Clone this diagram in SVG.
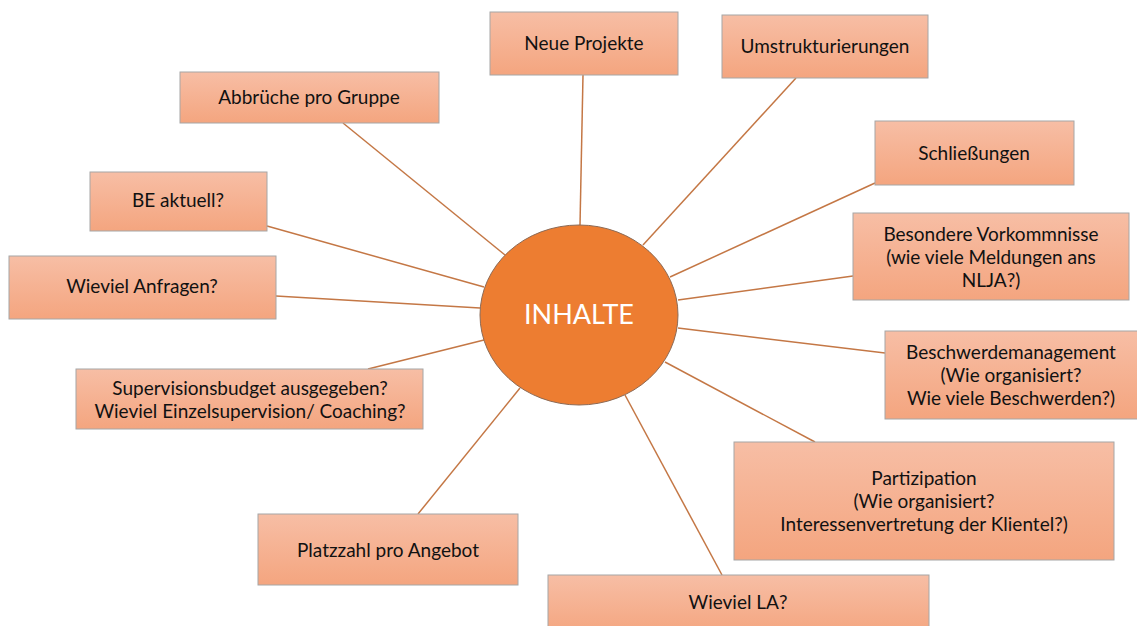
<svg xmlns="http://www.w3.org/2000/svg" width="1137" height="626" viewBox="0 0 1137 626">
<defs>
<linearGradient id="g" x1="0" y1="0" x2="0" y2="1">
<stop offset="0" stop-color="#F7BEA5"/>
<stop offset="1" stop-color="#F4A57F"/>
</linearGradient>
<style>
.b{fill:url(#g);stroke:#A6A6A6;stroke-width:1}
.t{font-family:Lato,"Noto Sans",sans-serif;font-size:19px;fill:#111;text-anchor:middle}
.c line{stroke:#C47745;stroke-width:1.5}
</style>
</defs>
<rect width="1137" height="626" fill="#fff"/>
<g class="c" id="connectors">
<line x1="583" y1="75" x2="580" y2="225"/>
<line x1="796" y1="78" x2="643" y2="245"/>
<line x1="343" y1="123" x2="505" y2="255"/>
<line x1="875" y1="183" x2="670" y2="277"/>
<line x1="853" y1="276" x2="678" y2="300"/>
<line x1="885" y1="353" x2="678" y2="328"/>
<line x1="815" y1="442" x2="665" y2="362"/>
<line x1="722" y1="575" x2="625" y2="395"/>
<line x1="418" y1="514" x2="520" y2="388"/>
<line x1="368" y1="369" x2="484" y2="340"/>
<line x1="276" y1="296" x2="480" y2="308"/>
<line x1="267" y1="226" x2="484" y2="287"/>
</g>
<g id="center">
<ellipse cx="579" cy="315" rx="99" ry="90" fill="#ED7D31" stroke="#8C6A55" stroke-width="1"/>
<text x="579" y="324" font-family="Lato,'Noto Sans',sans-serif" font-size="27" fill="#fff" text-anchor="middle">INHALTE</text>
</g>
<g id="n1"><rect class="b" x="490" y="12" width="188" height="63"/><text class="t" x="584" y="50">Neue Projekte</text></g>
<g id="n2"><rect class="b" x="722" y="15" width="206" height="63"/><text class="t" x="825" y="53">Umstrukturierungen</text></g>
<g id="n3"><rect class="b" x="180" y="72" width="259" height="51"/><text class="t" x="309" y="104">Abbrüche pro Gruppe</text></g>
<g id="n4"><rect class="b" x="875" y="121" width="199" height="64"/><text class="t" x="974" y="160">Schließungen</text></g>
<g id="n5"><rect class="b" x="90" y="172" width="177" height="59"/><text class="t" x="178" y="207">BE aktuell?</text></g>
<g id="n6"><rect class="b" x="9" y="256" width="267" height="63"/><text class="t" x="142" y="293">Wieviel Anfragen?</text></g>
<g id="n7"><rect class="b" x="76" y="369" width="347" height="60"/><text class="t" x="250" y="395">Supervisionsbudget ausgegeben?</text><text class="t" x="250" y="418">Wieviel Einzelsupervision/ Coaching?</text></g>
<g id="n8"><rect class="b" x="853" y="213" width="276" height="87"/><text class="t" x="991" y="241">Besondere Vorkommnisse</text><text class="t" x="991" y="264">(wie viele Meldungen ans</text><text class="t" x="991" y="287">NLJA?)</text></g>
<g id="n9"><rect class="b" x="885" y="331" width="253" height="88"/><text class="t" x="1011" y="359">Beschwerdemanagement</text><text class="t" x="1011" y="382">(Wie organisiert?</text><text class="t" x="1011" y="405">Wie viele Beschwerden?)</text></g>
<g id="n10"><rect class="b" x="734" y="442" width="380" height="118"/><text class="t" x="924" y="485">Partizipation</text><text class="t" x="924" y="508">(Wie organisiert?</text><text class="t" x="924" y="531">Interessenvertretung der Klientel?)</text></g>
<g id="n11"><rect class="b" x="548" y="575" width="381" height="60"/><text class="t" x="738" y="609">Wieviel LA?</text></g>
<g id="n12"><rect class="b" x="258" y="514" width="260" height="71"/><text class="t" x="388" y="557">Platzzahl pro Angebot</text></g>
</svg>
